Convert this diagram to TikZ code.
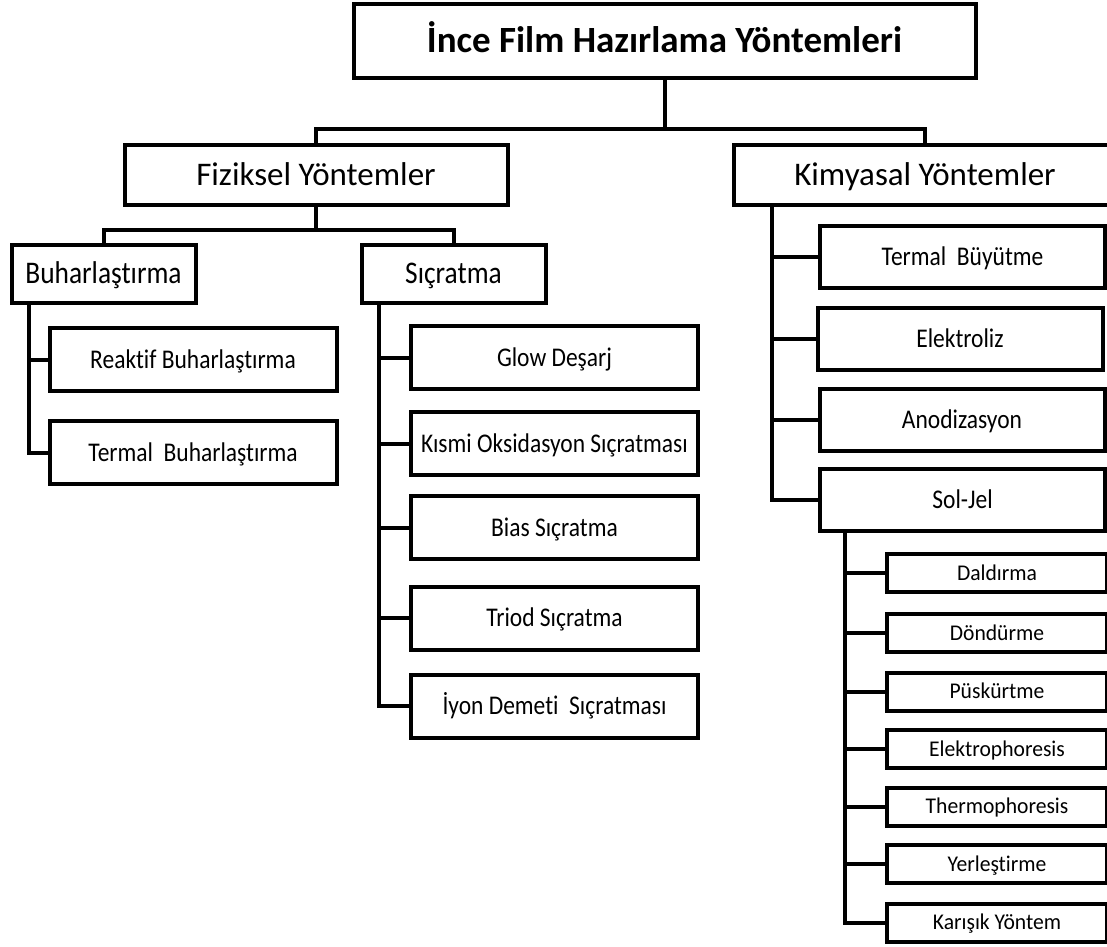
\documentclass[tikz,border=0pt]{standalone}
\usepackage{graphicx}
\usepackage{fontspec}
\setmainfont{Carlito}[Ligatures=NoCommon]
\newcommand{\narrowtxt}[2]{\scalebox{#1}[1]{#2}}
\begin{document}
\begin{tikzpicture}[x=1pt,y=-1pt,
  box/.style={draw, line width=4pt, inner sep=0pt, align=center, text depth=0pt},
  conn/.style={line width=4pt},
  ftitle/.style={font=\fontsize{37}{42}\selectfont\bfseries, text height=23.5pt},
  fone/.style={font=\fontsize{33}{38}\selectfont, text height=21pt},
  ftwo/.style={font=\fontsize{31.5}{36}\selectfont, text height=20pt},
  fthree/.style={font=\fontsize{27}{32}\selectfont, text height=17pt},
  ffour/.style={font=\fontsize{22.5}{27}\selectfont, text height=14.2pt},
  lvone/.style={box, fone, minimum width=383pt, minimum height=60pt},
  lvtwo/.style={box, ftwo, minimum width=184pt, minimum height=58pt},
  lvthree/.style={box, fthree, minimum width=287pt, minimum height=63pt},
  lvkim/.style={box, fthree, minimum width=285pt, minimum height=62pt},
  lvfour/.style={box, ffour, minimum width=220pt, minimum height=38pt}]
\useasboundingbox (0,0) rectangle (1107,946);
\clip (0,0) rectangle (1107,946);

% level 0
\node[box, ftitle, minimum width=622pt, minimum height=74pt] (title) at (664.5,41) {İnce Film Hazırlama Yöntemleri};

% level 1
\node[lvone] (fiz) at (316,174.5) {Fiziksel Yöntemler};
\node[lvone] (kim) at (925,174.5) {Kimyasal Yöntemler};

% level 2
\node[lvtwo] (buh) at (103.5,273.5) {\narrowtxt{0.87}{Buharlaştırma}};
\node[lvtwo] (sic) at (453.5,273.5) {\narrowtxt{0.87}{Sıçratma}};

% Buharlaştırma children
\node[lvthree] (reak) at (193,359.5) {\narrowtxt{0.87}{Reaktif Buharlaştırma}};
\node[lvthree] (tbuh) at (193,452.5) {\narrowtxt{0.87}{Termal\ \ Buharlaştırma}};

% Sıçratma children
\node[lvthree] (glow)  at (554.5,357.5) {\narrowtxt{0.87}{Glow Deşarj}};
\node[lvthree] (kism)  at (554.5,443.5) {\narrowtxt{0.87}{Kısmi Oksidasyon Sıçratması}};
\node[lvthree] (bias)  at (554.5,527.5) {\narrowtxt{0.87}{Bias Sıçratma}};
\node[lvthree] (triod) at (554.5,618) {\narrowtxt{0.87}{Triod Sıçratma}};
\node[lvthree] (iyon)  at (554.5,706) {\narrowtxt{0.87}{İyon Demeti\ \ Sıçratması}};

% Kimyasal children
\node[lvkim] (tbuy) at (962.5,256.5) {\narrowtxt{0.87}{Termal\ \ Büyütme}};
\node[lvkim] (elek) at (960,339) {\narrowtxt{0.87}{Elektroliz}};
\node[lvkim] (anod) at (962,420) {\narrowtxt{0.87}{Anodizasyon}};
\node[lvkim] (sol)  at (962.5,500) {\narrowtxt{0.87}{Sol-Jel}};

% Sol-Jel children
\node[lvfour] (dald) at (997,573) {\narrowtxt{0.96}{Daldırma}};
\node[lvfour] (dond) at (997,633) {\narrowtxt{0.96}{Döndürme}};
\node[lvfour] (pusk) at (997,691.5) {\narrowtxt{0.96}{Püskürtme}};
\node[lvfour] (elph) at (997,749) {\narrowtxt{0.96}{Elektrophoresis}};
\node[lvfour] (thph) at (997,806.5) {\narrowtxt{0.96}{Thermophoresis}};
\node[lvfour] (yerl) at (997,864) {\narrowtxt{0.96}{Yerleştirme}};
\node[lvfour] (kar)  at (997,922.5) {\narrowtxt{0.96}{Karışık Yöntem}};

% connectors
\coordinate (topmid) at (664.5,129);
\draw[conn] (title.south) -- (topmid);
\draw[conn] (fiz.north) |- (topmid) -| (kim.north);

\coordinate (fizmid) at (316,230);
\draw[conn] (fiz.south) -- (fizmid);
\draw[conn] (buh.north) |- (fizmid) -| (sic.north);

\coordinate (bx) at (29,0);
\draw[conn] (buh.south -| bx) |- (tbuh.west);
\draw[conn] (reak.west -| bx) -- (reak.west);

\coordinate (sx) at (379,0);
\draw[conn] (sic.south -| sx) |- (iyon.west);
\foreach \n in {glow,kism,bias,triod}
  \draw[conn] (\n.west -| sx) -- (\n.west);

\coordinate (kx) at (772,0);
\draw[conn] (kim.south -| kx) |- (sol.west);
\foreach \n in {tbuy,elek,anod}
  \draw[conn] (\n.west -| kx) -- (\n.west);

\coordinate (jx) at (845,0);
\draw[conn] (sol.south -| jx) |- (kar.west);
\foreach \n in {dald,dond,pusk,elph,thph,yerl}
  \draw[conn] (\n.west -| jx) -- (\n.west);
\end{tikzpicture}
\end{document}
